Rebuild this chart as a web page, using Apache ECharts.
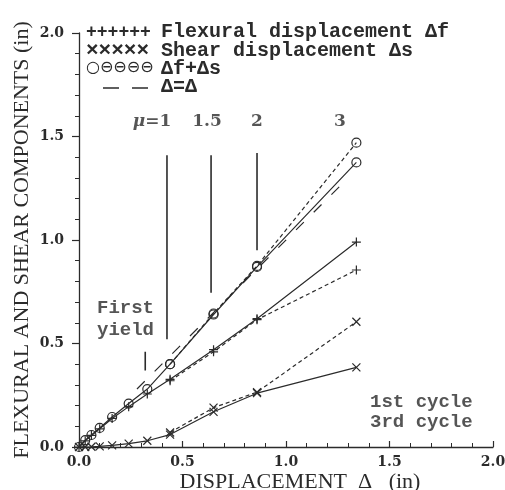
<!DOCTYPE html>
<html>
<head>
<meta charset="utf-8">
<script src="https://cdn.jsdelivr.net/npm/echarts@6/dist/echarts.min.js"></script>
<style>
  html, body { margin: 0; padding: 0; background: #fff; }
  #chart { width: 505px; height: 490px; }
</style>
</head>
<body>
<div id="chart"></div>
<script>
// displacement levels (in) and components, 1st cycle
const dispX = [0, 0.03, 0.06, 0.10, 0.16, 0.24, 0.33, 0.44, 0.65, 0.86, 1.34];
const flex1 = [0, 0.03, 0.056, 0.088, 0.138, 0.195, 0.256, 0.327, 0.47, 0.62, 0.99];
const shear1 = [0, 0, 0.001, 0.003, 0.008, 0.016, 0.03, 0.06, 0.17, 0.26, 0.385];
const total1 = [0, 0.033, 0.058, 0.092, 0.145, 0.21, 0.28, 0.40, 0.64, 0.87, 1.375];

// 3rd cycle
const dispX3 = [0.44, 0.65, 0.86, 1.34];
const flex3 = [0.32, 0.46, 0.615, 0.855];
const shear3 = [0.07, 0.19, 0.265, 0.605];
const total3 = [0.40, 0.645, 0.875, 1.47];

// Δ=Δ reference line ends
const equalLine = [0.28, 1.28];

// ductility markers
const muX = [0.425, 0.638, 0.86];
const muTop = [1.41, 1.41, 1.42];
const muBottom = [0.52, 0.745, 0.95];
const muLabels = ['{i|μ}=1', '1.5', '2', '3'];
const muLabelX = [0.353, 0.618, 0.86, 1.26];
const muLabelY = 1.57;

// first yield mark
const yieldX = 0.32;
const yieldY = [0.37, 0.46];

const xTicks = [0, 0.5, 1.0, 1.5, 2.0];
const yTicks = [0, 0.5, 1.0, 1.5, 2.0];

const ink = '#2b2b2b';
const plusSym = 'path://M5,0L5,10M0,5L10,5';
const crossSym = 'path://M0,0L10,10M10,0L0,10';

const pairs = (xs, ys) => xs.map((x, i) => [x, ys[i]]);

const curve = (name, xs, ys, sym, size, dashed) => ({
    name: name,
    type: 'line',
    data: pairs(xs, ys),
    symbol: sym,
    symbolSize: size,
    showAllSymbol: true,
    lineStyle: { color: ink, width: 1.2, type: dashed ? [4, 3] : 'solid' },
    itemStyle: { color: 'none', borderColor: ink, borderWidth: 1.2 },
    emphasis: { disabled: true },
    z: 3
});

const chart = echarts.init(document.getElementById('chart'));

const series = [
    curve('flex1', dispX, flex1, plusSym, 9, false),
    curve('shear1', dispX, shear1, crossSym, 8, false),
    curve('total1', dispX, total1, 'circle', 9, false),
    curve('flex3', dispX3, flex3, plusSym, 9, true),
    curve('shear3', dispX3, shear3, crossSym, 8, true),
    curve('total3', dispX3, total3, 'circle', 9, true),
    {
        type: 'line',
        data: [[equalLine[0], equalLine[0]], [equalLine[1], equalLine[1]]],
        symbol: 'none',
        lineStyle: { color: ink, width: 1.2, type: [11, 14] },
        z: 2
    }
];

muX.forEach((x, i) => {
    series.push({
        type: 'line',
        data: [[x, muTop[i]], [x, muBottom[i]]],
        symbol: 'none',
        lineStyle: { color: ink, width: 1.6 }
    });
});

series.push({
    type: 'line',
    data: [[yieldX, yieldY[0]], [yieldX, yieldY[1]]],
    symbol: 'none',
    lineStyle: { color: ink, width: 1.6 }
});

// text annotations placed in data space
series.push({
    type: 'scatter',
    symbolSize: 0,
    silent: true,
    data: muLabels.map((t, i) => ({ value: [muLabelX[i], muLabelY], name: t })),
    label: {
        show: true,
        position: 'inside',
        formatter: p => p.name,
        color: ink,
        fontFamily: 'DejaVu Serif',
        fontWeight: 'bold',
        fontSize: 17,
        rich: { i: { fontStyle: 'italic', fontWeight: 'bold', fontFamily: 'DejaVu Serif', fontSize: 17, color: ink } }
    }
});

const notes = [
    { text: 'First', x: 0.087, y: 0.67 },
    { text: 'yield', x: 0.087, y: 0.565 },
    { text: '1st cycle', x: 1.406, y: 0.217 },
    { text: '3rd cycle', x: 1.406, y: 0.121 }
];
series.push({
    type: 'scatter',
    symbolSize: 0,
    silent: true,
    data: notes.map(n => ({ value: [n.x, n.y], name: n.text })),
    label: {
        show: true,
        position: 'right',
        distance: 0,
        formatter: p => p.name,
        color: ink,
        fontFamily: 'Liberation Mono',
        fontWeight: 'bold',
        fontSize: 19
    }
});

const legendRows = [
    { sym: '++++++', font: 'bold 18px "Liberation Mono"', dy: 10, text: 'Flexural displacement Δf', y: 33 },
    { sym: '×××××', font: 'bold 21px "Liberation Mono"', dy: 12, text: 'Shear displacement Δs', y: 52 },
    { sym: '○⊖⊖⊖⊖', font: '16px "DejaVu Sans"', dy: 10, text: 'Δf+Δs', y: 70 },
    { sym: null, text: 'Δ=Δ', y: 88 }
];
const graphic = [];
legendRows.forEach(r => {
    if (r.sym) {
        graphic.push({
            type: 'text', left: 86, top: r.y - r.dy,
            style: { text: r.sym, fill: ink, font: r.font }
        });
    } else {
        graphic.push({
            type: 'line',
            shape: { x1: 103, y1: r.y, x2: 149, y2: r.y },
            style: { stroke: ink, lineWidth: 1.4, lineDash: [16, 13] }
        });
    }
    graphic.push({
        type: 'text', left: 161, top: r.y - 11,
        style: { text: r.text, fill: ink, font: 'bold 20px "Liberation Mono"' }
    });
});

chart.setOption({
    animation: false,
    backgroundColor: '#fff',
    grid: { left: 79, right: 12, top: 33, bottom: 43, outerBoundsMode: 'none', containLabel: false },
    xAxis: {
        type: 'value',
        min: xTicks[0],
        max: xTicks[xTicks.length - 1],
        interval: 0.5,
        name: 'DISPLACEMENT  Δ   (in)',
        nameLocation: 'middle',
        nameGap: 24,
        nameMoveOverlap: false,
        nameTextStyle: { fontFamily: 'Liberation Serif', fontSize: 22, color: ink, padding: [0, 0, 0, 28] },
        axisLine: { show: true, lineStyle: { color: ink, width: 1.3 } },
        axisTick: { show: true, inside: true, length: 6, lineStyle: { color: ink, width: 1.2 } },
        minorTick: { show: true, splitNumber: 5, length: 4, lineStyle: { color: ink, width: 1 } },
        splitLine: { show: false },
        axisLabel: {
            margin: 8,
            formatter: v => v.toFixed(1),
            fontFamily: 'DejaVu Serif',
            fontWeight: 'bold',
            fontSize: 14,
            color: ink
        }
    },
    yAxis: {
        type: 'value',
        min: yTicks[0],
        max: yTicks[yTicks.length - 1],
        interval: 0.5,
        name: 'FLEXURAL AND SHEAR COMPONENTS (in)',
        nameLocation: 'middle',
        nameGap: 46,
        nameMoveOverlap: false,
        nameTextStyle: { fontFamily: 'Liberation Serif', fontSize: 22, color: ink },
        axisLine: { show: true, lineStyle: { color: ink, width: 1.3 } },
        axisTick: { show: true, inside: false, length: 7, lineStyle: { color: ink, width: 1.2 } },
        minorTick: { show: true, splitNumber: 5, length: 4, lineStyle: { color: ink, width: 1 } },
        splitLine: { show: false },
        axisLabel: {
            margin: 15,
            formatter: v => v.toFixed(1),
            fontFamily: 'DejaVu Serif',
            fontWeight: 'bold',
            fontSize: 14,
            color: ink
        }
    },
    graphic: graphic,
    series: series
});
</script>
</body>
</html>
